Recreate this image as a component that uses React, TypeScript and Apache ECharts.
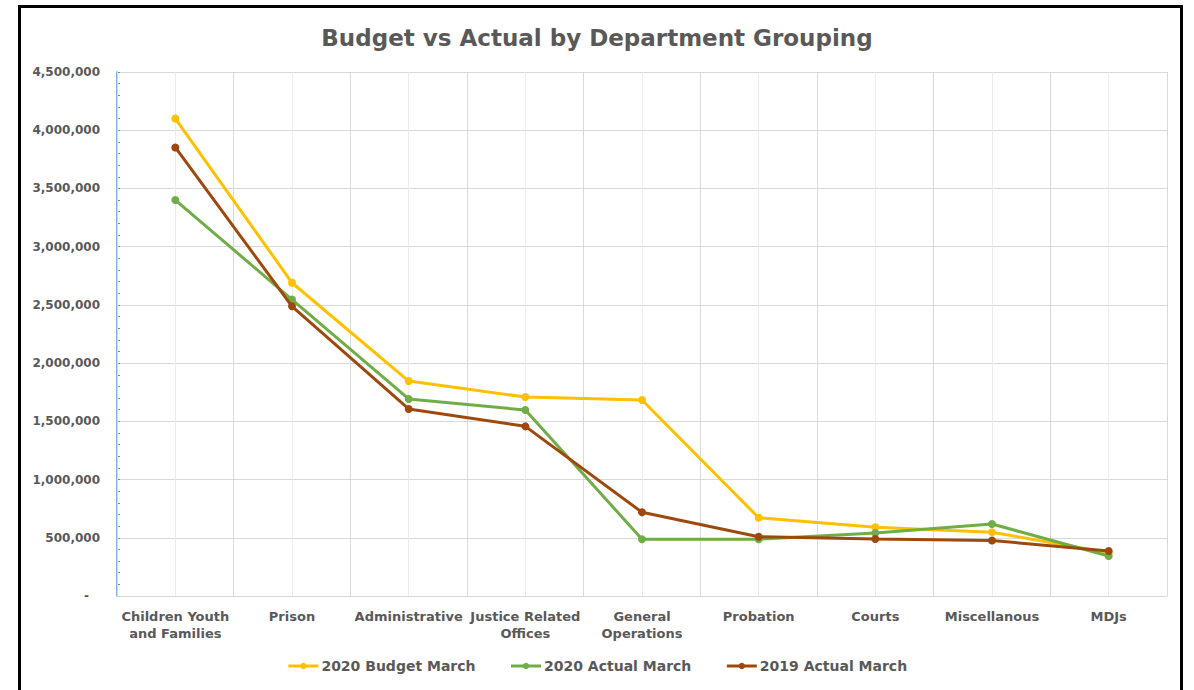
import React, { useEffect, useRef } from "react";
import * as echarts from "echarts";

const categories = [
  "Children Youth\nand Families",
  "Prison",
  "Administrative",
  "Justice Related\nOffices",
  "General\nOperations",
  "Probation",
  "Courts",
  "Miscellanous",
  "MDJs",
];

const budget2020 = [4100000, 2690000, 1846000, 1709000, 1683000, 672000, 590000, 547000, 372000];
const actual2020 = [3400000, 2546000, 1692000, 1597000, 488000, 488000, 541000, 618000, 343000];
const actual2019 = [3852000, 2488000, 1606000, 1457000, 719000, 509000, 490000, 477000, 386000];

const seriesNames = ["2020 Budget March", "2020 Actual March", "2019 Actual March"];
const seriesColors = ["#FFC000", "#70AD47", "#9E480E"];

const FONT = "'DejaVu Sans', 'Liberation Sans', Arial, sans-serif";
const TEXT = "#595959";

export default function App() {
  const ref = useRef<HTMLDivElement>(null);

  useEffect(() => {
    if (!ref.current) return;
    const chart = echarts.init(ref.current, null, { renderer: "svg" });
    const dataSets = [budget2020, actual2020, actual2019];
    chart.setOption({
      animation: false,
      backgroundColor: "#ffffff",
      textStyle: { fontFamily: FONT },
      title: {
        text: "Budget vs Actual by Department Grouping",
        left: "center",
        top: 21,
        textStyle: { fontFamily: FONT, fontSize: 23, fontWeight: "bold", color: TEXT },
      },
      graphic: [
        {
          type: "rect",
          shape: { x: 19.5, y: 6.5, width: 1162, height: 720 },
          style: { fill: "none", stroke: "#000", lineWidth: 3 },
          silent: true,
          z: 100,
        },
      ],
      legend: {
        data: seriesNames,
        bottom: 12,
        left: "center",
        itemWidth: 30,
        itemHeight: 8,
        itemGap: 34,
        lineStyle: { width: 3 },
        textStyle: { fontFamily: FONT, fontSize: 14, fontWeight: "bold", color: TEXT, padding: [0, 0, 0, -2] },
      },
      grid: { left: 117, right: 27, top: 72, bottom: 94, containLabel: false },
      xAxis: [
        {
          type: "category",
          data: categories,
          boundaryGap: true,
          z: 2,
          axisLine: { show: true, lineStyle: { color: "#d9d9d9", width: 1 } },
          axisTick: { show: false },
          splitLine: { show: true, interval: 0, lineStyle: { color: "#d9d9d9", width: 1 } },
          axisLabel: {
            interval: 0,
            margin: 12,
            fontFamily: FONT,
            fontSize: 13,
            fontWeight: "bold",
            color: TEXT,
            lineHeight: 17,
          },
        },
        {
          type: "value",
          min: 0,
          max: 18,
          interval: 1,
          position: "bottom",
          z: 0,
          axisLine: { show: false },
          axisTick: { show: false },
          axisLabel: { show: false },
          splitLine: { show: true, lineStyle: { color: "#ececec", width: 1 } },
        },
      ],
      yAxis: {
        type: "value",
        min: 0,
        max: 4500000,
        interval: 500000,
        axisLine: { show: true, lineStyle: { color: "#5B9BD5", width: 1.5 } },
        axisTick: { show: true, inside: true, length: 3, lineStyle: { color: "#5B9BD5" } },
        minorTick: { show: true, splitNumber: 5, length: 3, lineStyle: { color: "#5B9BD5" } },
        splitLine: { show: true, lineStyle: { color: "#d9d9d9", width: 1 } },
        axisLabel: {
          margin: 17,
          fontFamily: FONT,
          fontSize: 12,
          fontWeight: "bold",
          color: TEXT,
          formatter: (v: number) =>
            v === 0 ? "{z|-}" : v.toLocaleString("en-US"),
          rich: {
            z: { fontFamily: FONT, fontSize: 12, fontWeight: "bold", color: TEXT, padding: [0, 11, 0, 0] },
          },
        },
      },
      series: dataSets.map((d, i) => ({
        name: seriesNames[i],
        type: "line",
        xAxisIndex: 0,
        data: d,
        symbol: "circle",
        symbolSize: 8,
        itemStyle: { color: seriesColors[i] },
        lineStyle: { color: seriesColors[i], width: 3 },
        z: 3 + i,
      })),
    });
    return () => chart.dispose();
  }, []);

  return (
    <div
      ref={ref}
      style={{ position: "fixed", left: 0, top: 0, width: 1194, height: 690 }}
    />
  );
}
